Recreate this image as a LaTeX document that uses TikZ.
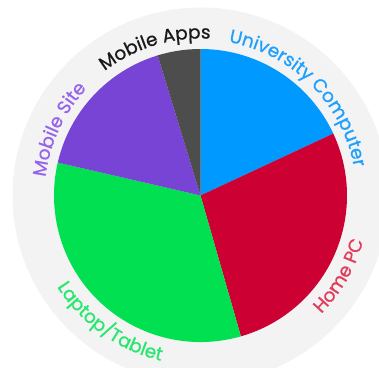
\documentclass[tikz,border=0pt]{standalone}
\usepackage{fontspec}
\newfontfamily\lblfont[FakeBold=0.8]{Poppins}
\usetikzlibrary{decorations.text}
\definecolor{bgc}{RGB}{243,243,243}
\definecolor{cblue}{RGB}{0,153,255}
\definecolor{cred}{RGB}{204,0,51}
\definecolor{cgreen}{RGB}{0,224,80}
\definecolor{cpurple}{RGB}{119,68,214}
\definecolor{cdark}{RGB}{77,77,77}
\definecolor{tblue}{RGB}{30,160,255}
\definecolor{tred}{RGB}{225,60,90}
\definecolor{tgreen}{RGB}{40,230,110}
\definecolor{tpurple}{RGB}{150,100,235}
\definecolor{tdark}{RGB}{25,25,25}
\newcommand{\lblsize}{\fontsize{18.5}{18.5}\selectfont}
\begin{document}
\begin{tikzpicture}[x=1pt,y=1pt,
  lbl/.style={decorate, decoration={text along path, text align=center}}]
\useasboundingbox (0,0) rectangle (379,367);
\coordinate (O) at (200.5,171.5);
\fill[bgc] (O) circle (188);
\begin{scope}[shift={(O)}]
\fill[cblue]   (0,0) -- (90:146.5) arc[start angle=90,end angle=25,radius=146.5] -- cycle;
\fill[cred]    (0,0) -- (25:146.5) arc[start angle=25,end angle=-74,radius=146.5] -- cycle;
\fill[cgreen]  (0,0) -- (-74:146.5) arc[start angle=-74,end angle=-193,radius=146.5] -- cycle;
\fill[cpurple] (0,0) -- (167:146.5) arc[start angle=167,end angle=107,radius=146.5] -- cycle;
\fill[cdark]   (0,0) -- (107:146.5) arc[start angle=107,end angle=90,radius=146.5] -- cycle;
\path[lbl, decoration={text={|\lblfont\lblsize\color{tblue}|University Computer}}]
  (100:156) arc[start angle=100,end angle=-10,radius=156];
\path[lbl, decoration={text={|\lblfont\lblsize\color{tdark}|Mobile Apps}}]
  (152:157) arc[start angle=152,end angle=62,radius=157];
\path[lbl, decoration={text={|\lblfont\lblsize\color{tpurple}|Mobile Site}}]
  (200:156) arc[start angle=200,end angle=110,radius=156];
\path[lbl, decoration={text={|\lblfont\lblsize\color{tred}|Home PC}}]
  (-75:169) arc[start angle=-75,end angle=15,radius=169];
\path[lbl, decoration={text={|\lblfont\lblsize\color{tgreen}|Laptop/Tablet}}]
  (-175:170) arc[start angle=-175,end angle=-76,radius=170];
\end{scope}
\end{tikzpicture}
\end{document}
